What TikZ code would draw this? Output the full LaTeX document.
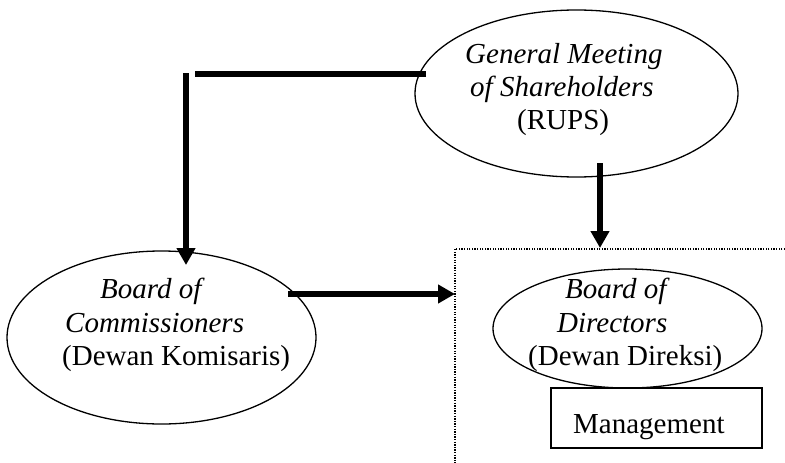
\documentclass[tikz,border=0pt]{standalone}
\usepackage{fontspec}
\setmainfont{Liberation Serif}
\usetikzlibrary{shapes.geometric,arrows.meta}
\tikzset{
  ell/.style={draw, ellipse, line width=1.3pt, inner sep=0pt},
  mgmtbox/.style={draw, rectangle, line width=1.3pt, inner sep=0pt},
  txt/.style={inner sep=0pt, anchor=base west, font=\fontsize{29}{33}\selectfont},
  itxt/.style={txt, font=\fontsize{29}{33}\selectfont\itshape},
  thick arrow/.style={line width=6pt, -{Triangle[length=17pt 0 0, width=18pt 0 0]}},
  thick line/.style={line width=6pt},
  dotbox/.style={line width=1.3pt, dash pattern=on 1.3pt off 1.3pt}
}
\begin{document}
\begin{tikzpicture}[x=1pt,y=-1pt]
\useasboundingbox (0,0) rectangle (785,463);

% ellipses
\node[ell, minimum width=323pt, minimum height=167pt] (gms) at (576.5,93.5) {};
\node[ell, minimum width=309pt, minimum height=173pt] (boc) at (161.5,337.5) {};
\node[ell, minimum width=269pt, minimum height=119pt] (bod) at (627.5,328.5) {};
\node[mgmtbox, minimum width=211pt, minimum height=60pt] (mgmt) at (656.5,418) {};

% texts
\node[itxt] (gms1) at (465,63) {General Meeting};
\node[itxt] (gms2) at (470,96) {of Shareholders};
\node[txt]  (gms3) at (517,129) {(RUPS)};

\node[itxt] (boc1) at (100,298) {Board of};
\node[itxt] (boc2) at (65,332) {Commissioners};
\node[txt]  (boc3) at (62,365) {(Dewan Komisaris)};

\node[itxt] (bod1) at (565,298) {Board of};
\node[itxt] (bod2) at (557,332) {Directors};
\node[txt]  (bod3) at (528,365) {(Dewan Direksi)};

\node[txt] (mgmtt) at (573,433) {Management};

% coordinates
\coordinate (hA) at (426,74);
\coordinate (hB) at (195,74);
\coordinate (vA) at (186,73);
\coordinate (vB) at (186,265);
\coordinate (rA) at (288,294);
\coordinate (rB) at (455,294);
\coordinate (tA) at (600,163);
\coordinate (tB) at (600,248);
\coordinate (dA) at (785,249);
\coordinate (dB) at (455,249);
\coordinate (dC) at (455,463);

% dotted frame
\draw[dotbox] (dA) -- (dB) -- (dC);

% connectors
\draw[thick line] (hA) -- (hB);
\draw[thick arrow] (vA) -- (vB);
\draw[thick arrow] (rA) -- (rB);
\draw[thick arrow] (tA) -- (tB);
\end{tikzpicture}
\end{document}
